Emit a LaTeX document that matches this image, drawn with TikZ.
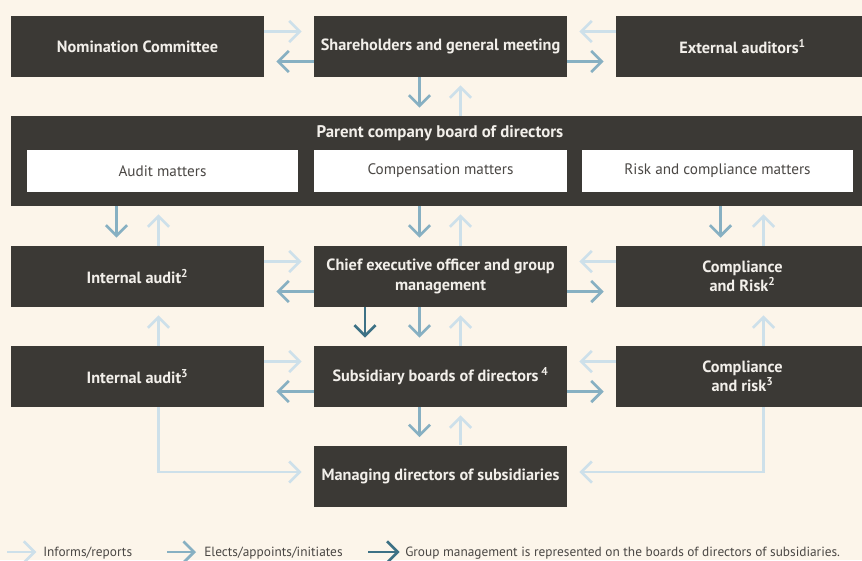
\documentclass[tikz,border=0pt]{standalone}
\usepackage{fontspec}
\setmainfont{PT Sans}
\usepackage{xcolor}
\usepackage{tikz}
\usetikzlibrary{arrows.meta,positioning,calc}
\definecolor{cream}{HTML}{FCF5EA}
\definecolor{boxdark}{HTML}{3B3935}
\definecolor{boxtext}{HTML}{F2EFEA}
\definecolor{subtext}{HTML}{4A4744}
\definecolor{lightline}{HTML}{CDE0EA}
\definecolor{midline}{HTML}{87B0C2}
\definecolor{darkline}{HTML}{3D7185}
\tikzset{
  orgbox/.style={draw=none, fill=boxdark, text=boxtext, align=center, inner sep=2pt, minimum width=189.75pt, minimum height=45.75pt, font=\fontsize{12.2pt}{14.4pt}\selectfont\bfseries},
  boardbox/.style={draw=none, fill=boxdark, inner sep=0pt, minimum width=643.5pt, minimum height=67.5pt},
  matterbox/.style={draw=none, fill=white, text=subtext, align=center, inner sep=2pt, minimum width=203.25pt, minimum height=31.5pt, font=\fontsize{11.4pt}{13pt}\selectfont},
  legendtext/.style={text=subtext, inner sep=0pt, anchor=base west, font=\fontsize{10pt}{12pt}\selectfont},
  inform/.style={-{Straight Barb[length=8pt,width=16pt]}, line width=2pt, draw=lightline, shorten >=6pt},
  elect/.style={-{Straight Barb[length=8pt,width=16pt]}, line width=2pt, draw=midline, shorten >=6pt},
  groupmgmt/.style={-{Straight Barb[length=8pt,width=16pt]}, line width=2pt, draw=darkline, shorten >=6pt},
  side/.style={shorten >=9pt}
}

\begin{document}
\begin{tikzpicture}[x=0.75pt, y=-0.75pt]
  \useasboundingbox (0,0) rectangle (862,560);
  \fill[cream] (0,0) rectangle (862,560);

  % top row
  \node[orgbox] (nom) at (137.5,46.5) {Nomination Committee};
  \node[orgbox] (share) at (440.5,46.5) {Shareholders and general meeting};
  \node[orgbox] (ext) at (742.5,46.5) {External auditors\textsuperscript{1}};

  % parent board with committees
  \node[boardbox] (board) at (440,161) {};
  \node[text=boxtext, font=\fontsize{12.6pt}{14.4pt}\selectfont\bfseries, inner sep=0pt] (boardtitle) at (440,133) {Parent company board of directors};
  \node[matterbox] (audit) at (162.5,171) {Audit matters};
  \node[matterbox, minimum width=189.75pt] (comp) at (440.5,171) {Compensation matters};
  \node[matterbox] (risk) at (717.5,171) {Risk and compliance matters};

  % group level
  \node[orgbox] (ia2) at (137.5,276.5) {Internal audit\textsuperscript{2}};
  \node[orgbox] (ceo) at (440.5,276.5) {Chief executive officer and group\\management};
  \node[orgbox] (cr2) at (742.5,276.5) {Compliance\\and Risk\textsuperscript{2}};

  % subsidiary level
  \node[orgbox] (ia3) at (137.5,376.5) {Internal audit\textsuperscript{3}};
  \node[orgbox] (sub) at (440.5,376.5) {Subsidiary boards of directors\,\textsuperscript{4}};
  \node[orgbox] (cr3) at (742.5,376.5) {Compliance\\and risk\textsuperscript{3}};
  \node[orgbox] (md) at (440.5,476) {Managing directors of subsidiaries};

  % top row sideways
  \draw[inform, side] ($(nom.east)+(0,-15)$) -- ($(share.west)+(0,-15)$);
  \draw[elect, side] ($(share.west)+(0,15)$) -- ($(nom.east)+(0,15)$);
  \draw[inform, side] ($(ext.west)+(0,-15)$) -- ($(share.east)+(0,-15)$);
  \draw[elect, side] ($(share.east)+(0,15)$) -- ($(ext.west)+(0,15)$);

  % shareholders and board
  \draw[elect] ($(share.south)+(-21,0)$) -- ($(board.north -| share)+(-21,0)$);
  \draw[inform] ($(board.north -| share)+(20,0)$) -- ($(share.south)+(20,0)$);

  % board down to group level
  \draw[elect] ($(board.south -| ia2)+(-21,0)$) -- ($(ia2.north)+(-21,0)$);
  \draw[inform] ($(ia2.north)+(21,0)$) -- ($(board.south -| ia2)+(21,0)$);
  \draw[elect] ($(board.south -| ceo)+(-21,0)$) -- ($(ceo.north)+(-21,0)$);
  \draw[inform] ($(ceo.north)+(20,0)$) -- ($(board.south -| ceo)+(20,0)$);
  \draw[elect] ($(board.south -| cr2)+(-22,0)$) -- ($(cr2.north)+(-22,0)$);
  \draw[inform] ($(cr2.north)+(21,0)$) -- ($(board.south -| cr2)+(21,0)$);

  % group level sideways
  \draw[inform, side] ($(ia2.east)+(0,-15)$) -- ($(ceo.west)+(0,-15)$);
  \draw[elect, side] ($(ceo.west)+(0,15)$) -- ($(ia2.east)+(0,15)$);
  \draw[inform, side] ($(cr2.west)+(0,-15)$) -- ($(ceo.east)+(0,-15)$);
  \draw[elect, side] ($(ceo.east)+(0,15)$) -- ($(cr2.west)+(0,15)$);

  % group level to subsidiaries
  \draw[groupmgmt] ($(ceo.south)+(-75.5,0)$) -- ($(sub.north)+(-75.5,0)$);
  \draw[elect] ($(ceo.south)+(-21,0)$) -- ($(sub.north)+(-21,0)$);
  \draw[inform] ($(sub.north)+(20,0)$) -- ($(ceo.south)+(20,0)$);
  \draw[inform] ($(ia3.north)+(21,0)$) -- ($(ia2.south)+(21,0)$);
  \draw[inform] ($(cr3.north)+(21,0)$) -- ($(cr2.south)+(21,0)$);

  % subsidiary level sideways
  \draw[inform, side] ($(ia3.east)+(0,-15)$) -- ($(sub.west)+(0,-15)$);
  \draw[elect, side] ($(sub.west)+(0,15)$) -- ($(ia3.east)+(0,15)$);
  \draw[inform, side] ($(cr3.west)+(0,-15)$) -- ($(sub.east)+(0,-15)$);
  \draw[elect, side] ($(sub.east)+(0,15)$) -- ($(cr3.west)+(0,15)$);

  % managing directors
  \draw[elect] ($(sub.south)+(-21,0)$) -- ($(md.north)+(-21,0)$);
  \draw[inform] ($(md.north)+(20,0)$) -- ($(sub.south)+(20,0)$);
  \draw[inform, side] ($(ia3.south)+(21,0)$) |- ($(md.west)+(0,-4)$);
  \draw[inform, side] ($(cr3.south)+(21,0)$) |- ($(md.east)+(0,-4)$);

  % legend
  \node[legendtext] (lginform) at (43,556) {Informs/reports};
  \node[legendtext] (lgelect) at (204,556) {Elects/appoints/initiates};
  \node[legendtext] (lggroup) at (405,556) {Group management is represented on the boards of directors of subsidiaries.};
  \coordinate (lginform0) at (7,552);
  \coordinate (lgelect0) at (167,552);
  \coordinate (lggroup0) at (368,552);
  \draw[inform, shorten >=5pt] (lginform0) -- (lginform0 -| lginform.west);
  \draw[elect, shorten >=6pt] (lgelect0) -- (lgelect0 -| lgelect.west);
  \draw[groupmgmt, shorten >=4pt] (lggroup0) -- (lggroup0 -| lggroup.west);
\end{tikzpicture}
\end{document}
